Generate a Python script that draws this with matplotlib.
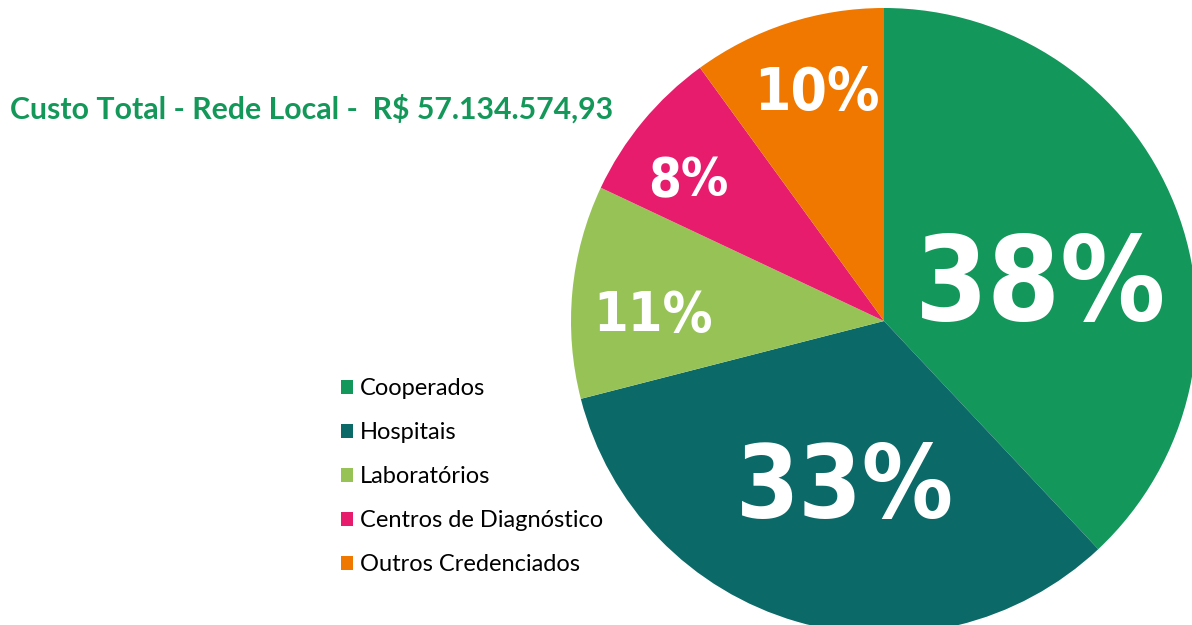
import matplotlib
matplotlib.use("Agg")
import matplotlib.pyplot as plt

# dados
categorias = ["Cooperados", "Hospitais", "Laboratórios", "Centros de Diagnóstico", "Outros Credenciados"]
percentuais = [38, 33, 11, 8, 10]
cores = ["#13975b", "#0b6a68", "#97c356", "#e81c6c", "#f07800"]
titulo = "Custo Total - Rede Local -  R$ 57.134.574,93"

# rotulos: tamanho (pt) e posicao (x centro, y linha de base) em pixels
rot_tam = [84, 73, 40, 38, 42]
rot_pos = [(1041, 320), (845, 518), (653, 331), (688, 196), (817, 110)]

W, H = 1192, 625
fig = plt.figure(figsize=(W / 100, H / 100), dpi=100)
ax = fig.add_axes([0, 0, 1, 1])

cx, cy, r = 884, H - 321, 313
wedges, textos = ax.pie(percentuais, colors=cores, startangle=90, counterclock=False,
                        center=(cx, cy), radius=r, wedgeprops=dict(linewidth=0))
ax.set_xlim(0, W)
ax.set_ylim(0, H)
ax.set_aspect("equal")
ax.axis("off")

for p, tam, (x, y) in zip(percentuais, rot_tam, rot_pos):
    ax.text(x, H - y, f"{p}%", ha="center", va="baseline", color="white",
            fontsize=tam, fontweight="heavy", fontstretch="condensed",
            family="DejaVu Sans")

# titulo ajustado a largura do original (~602 px)
t = fig.text(10 / W, 1 - 109 / H, titulo, ha="left", va="center",
             color="#14985a", fontsize=21, fontweight="bold", family="Lato")
fig.canvas.draw()
larg = t.get_window_extent().width
t.set_fontsize(21 * 602 / larg)

leg = ax.legend(wedges, categorias, loc="upper left", bbox_to_anchor=(341 / W, 1 - 378 / H),
                frameon=False, handlelength=0.52, handleheight=0.52,
                handletextpad=0.28, labelspacing=0.975, borderpad=0, borderaxespad=0,
                prop=dict(family="Lato", size=17))

fig.savefig("out.png", dpi=100)
